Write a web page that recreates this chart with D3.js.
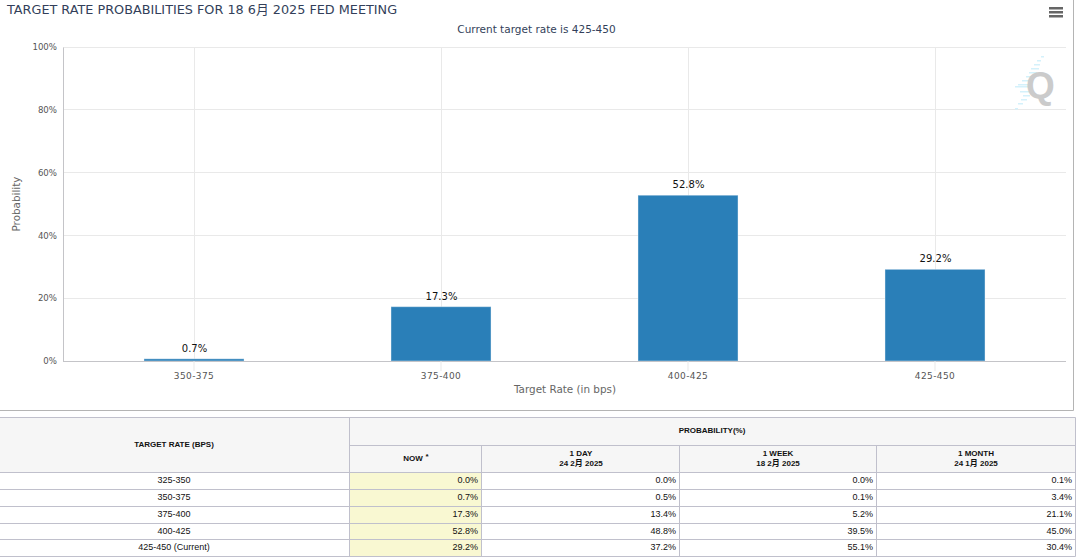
<!DOCTYPE html>
<html>
<head>
<meta charset="utf-8">
<script src="https://cdnjs.cloudflare.com/ajax/libs/d3/7.8.5/d3.min.js"></script>
<style>
  html, body { margin: 0; padding: 0; background: #fff; overflow: hidden; }
  svg { display: block; }
</style>
</head>
<body>
<script>
// values
var categories = ["350-375", "375-400", "400-425", "425-450"];
var probabilities = [0.7, 17.3, 52.8, 29.2];
var yTicks = [0, 20, 40, 60, 80, 100];

var tableRates = ["325-350", "350-375", "375-400", "400-425", "425-450 (Current)"];
var nowValues = ["0.0%", "0.7%", "17.3%", "52.8%", "29.2%"];
var dayValues = ["0.0%", "0.5%", "13.4%", "48.8%", "37.2%"];
var weekValues = ["0.0%", "0.1%", "5.2%", "39.5%", "55.1%"];
var monthValues = ["0.1%", "3.4%", "21.1%", "45.0%", "30.4%"];

var chartFont = "'DejaVu Sans', sans-serif";
var tableFont = "'Liberation Sans', 'Noto Sans CJK SC', sans-serif";
var gridColor = "#e9e9e9";
var axisColor = "#c4c4c8";
var tableLine = "#c0c0cc";

var svg = d3.select("body").append("svg")
  .attr("width", 1076)
  .attr("height", 557);

// chart frame
svg.append("path")
  .attr("d", "M0,410.5H1073.5V0")
  .attr("fill", "none")
  .attr("stroke", "#b4b4b4");

svg.append("text")
  .text("TARGET RATE PROBABILITIES FOR 18 6月 2025 FED MEETING")
  .attr("x", 7)
  .attr("y", 14)
  .attr("font-family", "'DejaVu Sans', 'Noto Sans CJK SC', sans-serif")
  .attr("font-size", 12.8)
  .attr("fill", "#333f5a");

svg.append("text")
  .text("Current target rate is 425-450")
  .attr("x", 536.5)
  .attr("y", 33)
  .attr("text-anchor", "middle")
  .attr("font-family", chartFont)
  .attr("font-size", 10.5)
  .attr("fill", "#333f5a");

// menu icon
svg.append("g")
  .selectAll("rect")
  .data([0, 1, 2])
  .enter()
  .append("rect")
  .attr("x", 1049)
  .attr("y", function(d) { return 7 + d * 4; })
  .attr("width", 14)
  .attr("height", 2.5)
  .attr("fill", "#666");

// setup scales

var xScale = d3.scaleBand()
  .domain(categories)
  .range([70.5, 1058.5])
  .paddingInner(0.595)
  .paddingOuter(0.2975);

var yScale = d3.scaleLinear()
  .domain([0, 100])
  .range([361, 47]);

var plot = svg.append("g");

// gridlines

plot.append("g")
  .selectAll("line")
  .data(yTicks.slice(1))
  .enter()
  .append("line")
  .attr("x1", 63)
  .attr("x2", 1066)
  .attr("y1", function(d) { return Math.floor(yScale(d)) + 0.5; })
  .attr("y2", function(d) { return Math.floor(yScale(d)) + 0.5; })
  .attr("stroke", gridColor);

plot.append("g")
  .selectAll("line")
  .data(categories)
  .enter()
  .append("line")
  .attr("x1", function(d) { return Math.round(xScale(d) + xScale.bandwidth() / 2) + 0.5; })
  .attr("x2", function(d) { return Math.round(xScale(d) + xScale.bandwidth() / 2) + 0.5; })
  .attr("y1", 47)
  .attr("y2", 361)
  .attr("stroke", gridColor);

// watermark

var stripes = [[1041, 56, 3], [1037, 60, 4], [1034, 64, 6], [1031, 68, 8], [1029, 72, 8], [1026, 76, 9],
  [1022, 80, 11], [1018, 84, 14], [1015, 86, 16], [1020, 91, 10], [1023, 95, 7], [1021, 99, 6], [1018, 103, 5], [1015, 108, 3]];

plot.append("g")
  .selectAll("rect")
  .data(stripes)
  .enter()
  .append("rect")
  .attr("x", function(d) { return d[0]; })
  .attr("y", function(d) { return d[1]; })
  .attr("width", function(d) { return d[2]; })
  .attr("height", 1.5)
  .attr("fill", "#d4f1fb");

plot.append("text")
  .text("Q")
  .attr("x", 1040.5)
  .attr("y", 98)
  .attr("text-anchor", "middle")
  .attr("font-family", "'Liberation Sans', sans-serif")
  .attr("font-weight", "bold")
  .attr("font-size", 37)
  .attr("fill", "#cbcbcb");

// bars

plot.append("g")
  .selectAll("rect")
  .data(probabilities)
  .enter()
  .append("rect")
  .attr("x", function(d, i) { return xScale(categories[i]); })
  .attr("y", function(d) { return yScale(d); })
  .attr("width", xScale.bandwidth())
  .attr("height", function(d) { return yScale(0) - yScale(d); })
  .attr("fill", "#2a7fb8")
  .attr("stroke", "#fff")
  .attr("stroke-opacity", 0.4);

plot.append("g")
  .selectAll("text")
  .data(probabilities)
  .enter()
  .append("text")
  .text(function(d) { return d.toFixed(1) + "%"; })
  .attr("x", function(d, i) { return xScale(categories[i]) + xScale.bandwidth() / 2 + 0.5; })
  .attr("y", function(d) { return Math.round(yScale(d)) - 7; })
  .attr("text-anchor", "middle")
  .attr("font-family", chartFont)
  .attr("font-size", 10)
  .attr("fill", "#111");

// axes

var yAxis = svg.append("g")
  .attr("transform", "translate(63,0)")
  .call(d3.axisLeft(yScale).tickValues(yTicks).tickSize(0).tickPadding(6).tickFormat(function(d) { return d + "%"; }));
yAxis.select(".domain").attr("stroke", axisColor);
yAxis.selectAll("text")
  .attr("font-family", chartFont)
  .attr("font-size", 8.6)
  .attr("fill", "#555");

var xAxis = svg.append("g")
  .attr("transform", "translate(0,361)")
  .call(d3.axisBottom(xScale).tickSize(10).tickPadding(2).tickSizeOuter(0));
xAxis.select(".domain").attr("d", "M63,0.5H1066").attr("stroke", axisColor);
xAxis.selectAll(".tick line").attr("stroke", gridColor);
xAxis.selectAll("text")
  .attr("font-family", chartFont)
  .attr("font-size", 9)
  .attr("letter-spacing", 0.4)
  .attr("fill", "#555");

svg.append("text")
  .text("Target Rate (in bps)")
  .attr("x", 565)
  .attr("y", 393)
  .attr("text-anchor", "middle")
  .attr("font-family", chartFont)
  .attr("font-size", 10.4)
  .attr("fill", "#666");

svg.append("text")
  .text("Probability")
  .attr("transform", "translate(20,204) rotate(-90)")
  .attr("text-anchor", "middle")
  .attr("font-family", chartFont)
  .attr("font-size", 10.4)
  .attr("fill", "#666");

// table

var colX = [0, 349.5, 481.5, 679.5, 876.5, 1075.5];
var rowY = [472.5, 489.5, 506.5, 523.5, 539.5, 556.5];
var table = svg.append("g");

function cellRect(x1, y1, x2, y2, fill) {
  table.append("rect")
    .attr("x", x1)
    .attr("y", y1)
    .attr("width", x2 - x1)
    .attr("height", y2 - y1)
    .attr("fill", fill);
}

function tableLineSeg(x1, y1, x2, y2) {
  table.append("line")
    .attr("x1", x1)
    .attr("y1", y1)
    .attr("x2", x2)
    .attr("y2", y2)
    .attr("stroke", tableLine);
}

function headText(str, x, y, size) {
  return table.append("text")
    .text(str)
    .attr("x", x)
    .attr("y", y)
    .attr("text-anchor", "middle")
    .attr("font-family", tableFont)
    .attr("font-weight", "bold")
    .attr("font-size", size || 8)
    .attr("fill", "#111");
}

cellRect(0, 417.5, 1075.5, 472.5, "#f6f6f6");
cellRect(colX[1], rowY[0], colX[2], rowY[5], "#f9f8d2");

tableLineSeg(0, 417.5, 1075.5, 417.5);
tableLineSeg(349.5, 445.5, 1075.5, 445.5);
rowY.forEach(function(y) { tableLineSeg(0, y, 1075.5, y); });
tableLineSeg(349.5, 417.5, 349.5, 556.5);
tableLineSeg(1075.5, 417.5, 1075.5, 556.5);
[2, 3, 4].forEach(function(c) { tableLineSeg(colX[c], 445.5, colX[c], 556.5); });

headText("TARGET RATE (BPS)", 174, 447, 8);
headText("PROBABILITY(%)", 712, 433, 8);
headText("NOW", 413, 461, 8);
headText("*", 427, 458.5, 8);
headText("1 DAY", 581, 456, 8);
headText("24 2月 2025", 581, 466, 8);
headText("1 WEEK", 778, 456, 8);
headText("18 2月 2025", 778, 466, 8);
headText("1 MONTH", 976, 456, 8);
headText("24 1月 2025", 976, 466, 8);

tableRates.forEach(function(rate, r) {
  var y = rowY[r] + 10.5;
  table.append("text")
    .text(rate)
    .attr("x", 174)
    .attr("y", y)
    .attr("text-anchor", "middle")
    .attr("font-family", tableFont)
    .attr("font-size", 9)
    .attr("fill", "#111");
  [nowValues, dayValues, weekValues, monthValues].forEach(function(col, c) {
    table.append("text")
      .text(col[r])
      .attr("x", colX[c + 2] - 3.5)
      .attr("y", y)
      .attr("text-anchor", "end")
      .attr("font-family", tableFont)
      .attr("font-size", 9)
      .attr("fill", "#111");
  });
});
</script>
</body>
</html>
